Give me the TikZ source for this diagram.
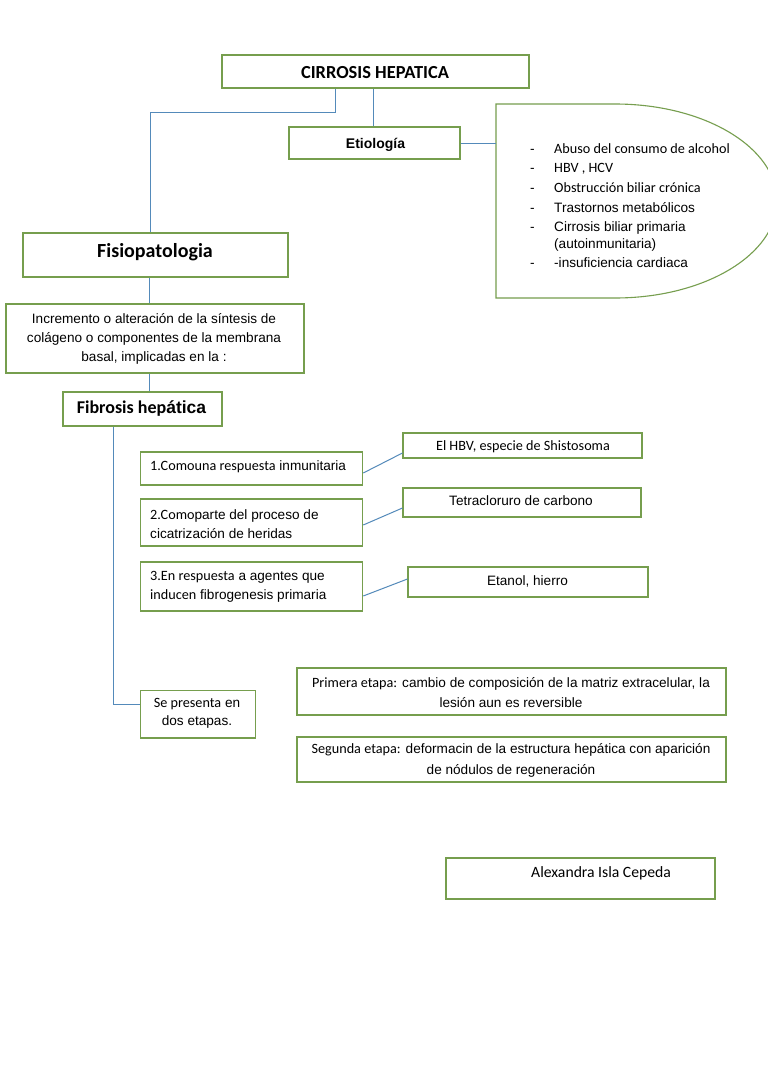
\documentclass[tikz,border=0pt]{standalone}
\usepackage{fontspec}
\newfontfamily\fcal{Carlito}
\newfontfamily\fari{Liberation Sans}
\definecolor{bgreen}{RGB}{118,158,78}
\definecolor{lblue}{RGB}{84,138,186}
\begin{document}
\begin{tikzpicture}[x=1pt,y=-1pt,
  box/.style={draw=bgreen,line width=1.1pt,inner sep=0pt},
  lbl/.style={inner sep=0pt,font=\fari\fontsize{13.6}{19}\selectfont},
  clbl/.style={inner sep=0pt,font=\fcal\fontsize{14.2}{19}\selectfont},
  li/.style={anchor=west,text height=10pt,text depth=3pt},
  conn/.style={draw=lblue,line width=1pt}]
\useasboundingbox (0,0) rectangle (768,1087);
\fill[white] (0,0) rectangle (768,1087);
\clip (0,0) rectangle (768,1087);

% boxes
\node[box,minimum width=307pt,minimum height=33pt] (cirrosis) at (375.5,71.5) {};
\node[box,minimum width=171pt,minimum height=32pt] (etio) at (374.5,143) {};
\node[box,minimum width=265pt,minimum height=44pt] (fisio) at (155.5,255) {};
\node[box,minimum width=298pt,minimum height=69pt] (incr) at (155,338.5) {};
\node[box,minimum width=159pt,minimum height=34pt] (fibro) at (142.5,409) {};
\node[box,minimum width=222pt,minimum height=33pt] (b1) at (251.7,468.5) {};
\node[box,minimum width=222pt,minimum height=47pt] (b2) at (251.7,522.5) {};
\node[box,minimum width=222pt,minimum height=49pt] (b3) at (251.7,586.5) {};
\node[box,minimum width=239pt,minimum height=25pt] (bA) at (522.5,445.5) {};
\node[box,minimum width=238pt,minimum height=29pt] (bB) at (522,502.5) {};
\node[box,minimum width=240pt,minimum height=30pt] (bC) at (528,582) {};
\node[box,minimum width=115pt,minimum height=47.3pt] (se) at (198.2,714.35) {};
\node[box,minimum width=429pt,minimum height=47pt] (prim) at (511.5,691.5) {};
\node[box,minimum width=429pt,minimum height=45pt] (seg) at (511.5,759.5) {};
\node[box,minimum width=269pt,minimum height=41pt] (alex) at (580.5,878.5) {};

% etiology list shape
\draw[draw=bgreen,line width=1.1pt] (496,104) -- (615,104)
  arc[start angle=-90,end angle=90,x radius=162,y radius=97] -- (496,298) -- cycle;
\coordinate (listL) at (496,142);

% texts
\node[clbl,font=\fcal\bfseries\fontsize{18.4}{22}\selectfont] (tcirr) at (375,73) {CIRROSIS HEPATICA};
\node[lbl,font=\fari\bfseries\fontsize{14}{17}\selectfont] (tetio) at (375.5,145) {Etiología};
\node[clbl,font=\fcal\bfseries\fontsize{20}{24}\selectfont] (tfisio) at (155,252) {Fisiopatologia};
\node[lbl,align=center] (tincr) at (154,339) {Incremento o alteración de la síntesis de\\colágeno o componentes de la membrana\\basal, implicadas en la :};
\node[inner sep=0pt,font=\fcal\bfseries\fontsize{18}{22}\selectfont] (tfibro) at (141.5,408) {Fibrosis hep{\fari\fontsize{17.5}{22}\selectfont ática}};

\node[lbl,anchor=west] (t1) at (150,467) {{\fcal\fontsize{14.2}{19}\selectfont 1.Comouna respuesta} inmunitaria};
\node[lbl,anchor=west,align=left] (t2) at (150,524) {{\fcal\fontsize{14.2}{19}\selectfont 2.Como}parte del proceso de\\cicatrización de heridas};
\node[lbl,anchor=west,align=left] (t3) at (150,587) {{\fcal\fontsize{14.2}{19}\selectfont 3.En respuesta} a agentes que\\{\fcal\fontsize{14.2}{19}\selectfont inducen} fibrogenesis primaria};

\node[clbl] (tA) at (523,447) {El HBV, especie de Shistosoma};
\node[lbl] (tB) at (521,501) {Tetracloruro de carbono};
\node[lbl] (tC) at (527.5,581) {Etanol, hierro};

\node[lbl,align=center,font=\fari\fontsize{13.6}{18}\selectfont] (tse) at (197,713.5) {{\fcal\fontsize{14.2}{18}\selectfont Se presenta} en\\dos etapas.};
\node[lbl,align=center,font=\fari\fontsize{13.6}{20}\selectfont] (tprim) at (511,693) {{\fcal\fontsize{14.2}{20}\selectfont Primera etapa:} cambio de composición de la matriz extracelular, la\\lesión aun es reversible};
\node[lbl,align=center,font=\fari\fontsize{13.6}{21}\selectfont] (tseg) at (511,760.5) {{\fcal\fontsize{14.2}{21}\selectfont Segunda etapa:} deformacin de la estructura hepática con aparición\\de nódulos de regeneración};

\node[clbl,anchor=west,font=\fcal\fontsize{15.7}{19}\selectfont] (talex) at (531,873) {Alexandra Isla Cepeda};

% etiology list
\foreach \yy/\nm in {150/d1,169/d2,189/d3,209/d4,228/d5,264/d6}
  \node[lbl,li] (\nm) at (530,\yy) {-};
\node[clbl,li] (e1) at (554,150) {Abuso del consumo de alcohol};
\node[clbl,li] (e2) at (554,169) {HBV , HCV};
\node[clbl,li] (e3) at (554,189) {Obstrucción biliar crónica};
\node[lbl,li] (e4) at (554,209) {Trastornos metabólicos};
\node[lbl,li] (e5) at (554,228) {Cirrosis biliar primaria};
\node[lbl,li] (e5b) at (554,245) {(autoinmunitaria)};
\node[lbl,li] (e6) at (554,264) {-insuficiencia cardiaca};

% connectors
\draw[conn] ([xshift=-39.8pt]cirrosis.south) -- ++(0,24) -| ([xshift=-5.5pt]fisio.north);
\draw[conn] ([xshift=-1.5pt]etio.north) -- ([xshift=-1.5pt]etio.north |- cirrosis.south);
\draw[conn] (etio.east) -- (etio.east -| listL);
\draw[conn] ([xshift=-6.5pt]fisio.south) -- ([xshift=-6.5pt]fisio.south |- incr.north);
\draw[conn] ([xshift=-6pt]incr.south) -- ([xshift=-6pt]incr.south |- fibro.north);
\draw[conn] ([xshift=-29.2pt]fibro.south) |- ([yshift=10.35pt]se.west);
\draw[conn] ([yshift=-4.5pt]b1.east) -- ([yshift=-7.5pt]bA.west);
\draw[conn] ([yshift=-2.5pt]b2.east) -- ([yshift=-5.5pt]bB.west);
\draw[conn] ([yshift=-9.5pt]b3.east) -- ([yshift=3pt]bC.west);
\end{tikzpicture}
\end{document}
